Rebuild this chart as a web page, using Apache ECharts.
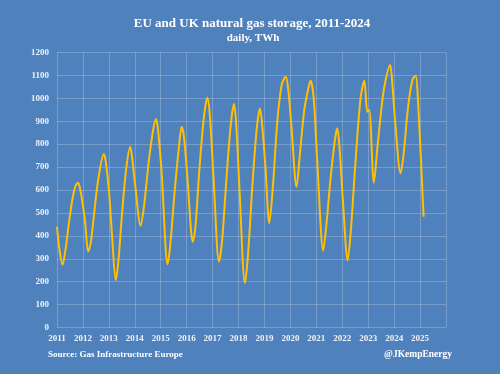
<!DOCTYPE html>
<html>
<head>
<meta charset="utf-8">
<script src="https://cdn.jsdelivr.net/npm/echarts@6/dist/echarts.min.js"></script>
<style>
html,body{margin:0;padding:0;background:#4f81bd;}
#chart{width:500px;height:374px;}
</style>
</head>
<body>
<div id="chart"></div>
<script>
const dates = [
"2011-01-01","2011-02-01","2011-03-20","2011-05-01","2011-06-15","2011-08-01","2011-09-15","2011-10-25","2011-11-25","2011-12-31",
"2012-02-01","2012-03-15","2012-04-20","2012-06-01","2012-08-01","2012-10-22","2012-11-20",
"2013-01-05","2013-02-15","2013-04-08","2013-05-15","2013-07-01","2013-09-01","2013-10-30","2013-11-25",
"2014-01-01","2014-03-25","2014-05-15","2014-07-15","2014-09-15","2014-10-27","2014-11-25",
"2015-01-15","2015-04-08","2015-05-15","2015-07-15","2015-09-15","2015-10-22","2015-11-25",
"2016-01-15","2016-03-01","2016-03-25","2016-05-01","2016-07-01","2016-09-01","2016-10-20","2016-11-25",
"2017-01-15","2017-04-01","2017-05-15","2017-07-15","2017-09-15","2017-10-30","2017-12-01",
"2018-01-15","2018-04-01","2018-05-15","2018-07-15","2018-09-15","2018-10-30","2018-12-01",
"2019-01-15","2019-03-10","2019-05-01","2019-07-01","2019-09-01","2019-10-27","2019-12-01",
"2020-01-15","2020-03-28","2020-05-15","2020-07-15","2020-09-15","2020-10-12","2020-11-25",
"2021-01-15","2021-04-08","2021-05-20","2021-07-20","2021-09-20","2021-10-22","2021-11-25",
"2022-01-15","2022-03-18","2022-05-01","2022-07-01","2022-09-15","2022-11-07","2022-12-20",
"2023-01-15","2023-03-22","2023-05-15","2023-07-15","2023-08-25","2023-11-05","2023-12-10",
"2024-01-15","2024-04-01","2024-05-15","2024-07-15","2024-09-15","2024-10-30","2024-12-01",
"2025-02-20"
];
const storageTWh = [
440,350,273,340,450,550,615,632,600,535,
460,331,369,480,640,757,720,
587,400,207,290,480,690,789,740,
636,444,540,720,860,910,860,
670,276,360,590,790,876,830,
640,430,374,430,700,920,1003,920,
650,287,380,650,890,975,880,
600,193,320,620,870,956,880,
700,455,620,900,1060,1094,1040,
880,614,760,950,1050,1077,1000,
720,335,440,650,820,869,780,
530,292,420,700,1000,1077,942,
949,632,800,980,1066,1145,1050,
900,673,760,960,1080,1099,1000,
483
];
const yearTicks = ["2011","2012","2013","2014","2015","2016","2017","2018","2019","2020","2021","2022","2023","2024","2025"];

function toDecYear(s){
  const d = new Date(s + "T00:00:00Z");
  const y = d.getUTCFullYear();
  const start = Date.UTC(y,0,1), end = Date.UTC(y+1,0,1);
  return y + (d.getTime()-start)/(end-start);
}
const seriesData = dates.map((d,i)=>[toDecYear(d), storageTWh[i]]);

const font = "'Liberation Serif', 'DejaVu Serif', serif";
const grid = 'rgba(255,255,255,0.22)';
const labelColor = '#eef2f8';
const chart = echarts.init(document.getElementById('chart'));
chart.setOption({
  backgroundColor:'#4f81bd',
  animation:false,
  title:[
    {text:'EU and UK natural gas storage, 2011-2024', left:247, top:12, textAlign:'center',
     textStyle:{fontFamily:font, fontWeight:'bold', fontSize:13, color:'#ffffff'}},
    {text:'daily, TWh', left:248, top:28, textAlign:'center',
     textStyle:{fontFamily:font, fontWeight:'bold', fontSize:11, color:'#ffffff'}},
    {text:'Source: Gas Infrastructure Europe', left:43, top:345,
     textStyle:{fontFamily:font, fontWeight:'bold', fontSize:9, color:'#ffffff'}},
    {text:'@JKempEnergy', right:43, top:345,
     textStyle:{fontFamily:font, fontWeight:'bold', fontSize:9.5, color:'#ffffff'}}
  ],
  grid:{left:57, right:54, top:52.5, bottom:46.5, containLabel:false},
  xAxis:{
    type:'value', min:2011, max:2026, interval:1,
    axisLine:{show:false}, axisTick:{show:false},
    splitLine:{show:true, lineStyle:{color:grid, width:1}},
    axisLabel:{margin:7, color:labelColor, fontFamily:font, fontWeight:'bold', fontSize:9,
      formatter:function(v){ const s = String(Math.round(v)); return yearTicks.indexOf(s)>=0 ? s : ''; }}
  },
  yAxis:{
    type:'value', min:0, max:1200, interval:100,
    axisLine:{show:false}, axisTick:{show:false},
    splitLine:{show:true, lineStyle:{color:grid, width:1}},
    axisLabel:{margin:8, color:labelColor, fontFamily:font, fontWeight:'bold', fontSize:9,
      formatter:function(v){ return String(v); }}
  },
  series:[{
    type:'line', data:seriesData, showSymbol:false, smooth:0.3,
    lineStyle:{color:'#ffc000', width:2}
  }]
});
</script>
</body>
</html>
